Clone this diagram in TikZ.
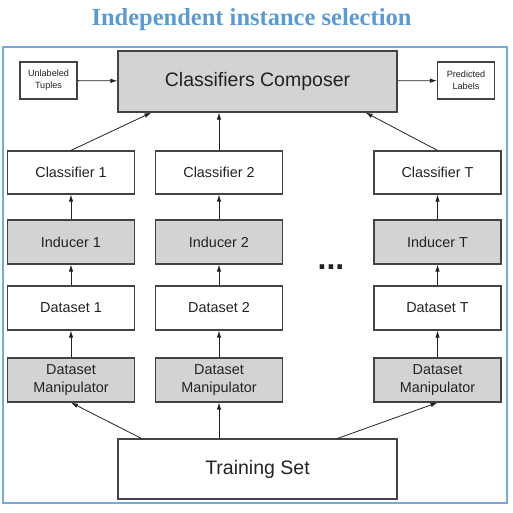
\documentclass[tikz,border=0pt]{standalone}
\usepackage{fontspec}
\setmainfont{Liberation Sans}
\newfontfamily\titlefont{Liberation Serif}
\usetikzlibrary{arrows.meta}
\definecolor{titleblue}{HTML}{5B9BD5}
\definecolor{frameblue}{HTML}{7AA7DA}
\definecolor{boxgray}{HTML}{D3D3D3}
\definecolor{ink}{HTML}{222222}

\begin{document}
\begin{tikzpicture}[x=1pt, y=-1pt,
		box/.style = {draw=ink!85, line width=1.2pt, text=ink, align=center, inner sep=0pt},
		whitebox/.style = {box, fill=white, minimum width=127pt, minimum height=43pt, font=\fontsize{14.4}{18}\selectfont},
		graybox/.style = {whitebox, fill=boxgray, minimum height=44pt},
		bigbox/.style = {box, minimum width=279pt, font=\fontsize{19.5}{23}\selectfont},
		smallbox/.style = {box, fill=white, minimum width=57pt, minimum height=37pt, font=\fontsize{9.1}{12}\selectfont},
		link/.style = {-{Latex[length=7pt, width=4.5pt]}, ink, line width=0.8pt}]
	\useasboundingbox (0,0) rectangle (513,512);
	
	\node[text=titleblue, font=\titlefont\bfseries\fontsize{24.5}{28}\selectfont] (title) at (251.5,20) {Independent instance selection};
	\draw[frameblue, line width=1.5pt] (3,47) rectangle (507,503);
	
	\node[bigbox, fill=boxgray, minimum height=61pt] (composer) at (257.5,81.5) {Classifiers Composer};
	\node[smallbox] (unlabeled) at (48.5,80.5) {Unlabeled\\Tuples};
	\node[smallbox] (predicted) at (466,80.5) {Predicted\\Labels};
	\draw[link] (unlabeled) -- (composer);
	\draw[link] (composer) -- (predicted);
	
	\node[whitebox] (cls1) at (71,172.5) {Classifier 1};
	\node[whitebox] (cls2) at (219,172.5) {Classifier 2};
	\node[whitebox] (clsT) at (437.5,172.5) {Classifier T};
	
	\node[graybox] (ind1) at (71,242) {Inducer 1};
	\node[graybox] (ind2) at (219,242) {Inducer 2};
	\node[graybox] (indT) at (437.5,242) {Inducer T};
	
	\node[whitebox, minimum height=44pt] (data1) at (71,308) {Dataset 1};
	\node[whitebox, minimum height=44pt] (data2) at (219,308) {Dataset 2};
	\node[whitebox, minimum height=44pt] (dataT) at (437.5,308) {Dataset T};
	
	\node[graybox] (man1) at (71,380) {Dataset\\Manipulator};
	\node[graybox] (man2) at (219,380) {Dataset\\Manipulator};
	\node[graybox] (manT) at (437.5,380) {Dataset\\Manipulator};
	
	\node[text=ink, font=\bfseries\fontsize{32}{32}\selectfont] (dots) at (331,267) {...};
	
	\node[bigbox, fill=white, minimum height=60pt] (train) at (257.5,469) {Training Set};
	
	% upward chains
	\foreach \c in {1,2,T}{
		\draw[link] (ind\c) -- (cls\c);
		\draw[link] (data\c) -- (ind\c);
		\draw[link] (man\c) -- (data\c);
	}
	
	\draw[link] (cls1.north) -- ([xshift=34pt]composer.south west);
	\draw[link] (cls2.north) -- (composer.south -| cls2.north);
	\draw[link] (clsT.north) -- ([xshift=-32pt]composer.south east);
	
	\draw[link] ([xshift=24pt]train.north west) -- (man1.south);
	\draw[link] (train.north -| man2.south) -- (man2.south);
	\draw[link] ([xshift=-60pt]train.north east) -- (manT.south);
\end{tikzpicture}
\end{document}
